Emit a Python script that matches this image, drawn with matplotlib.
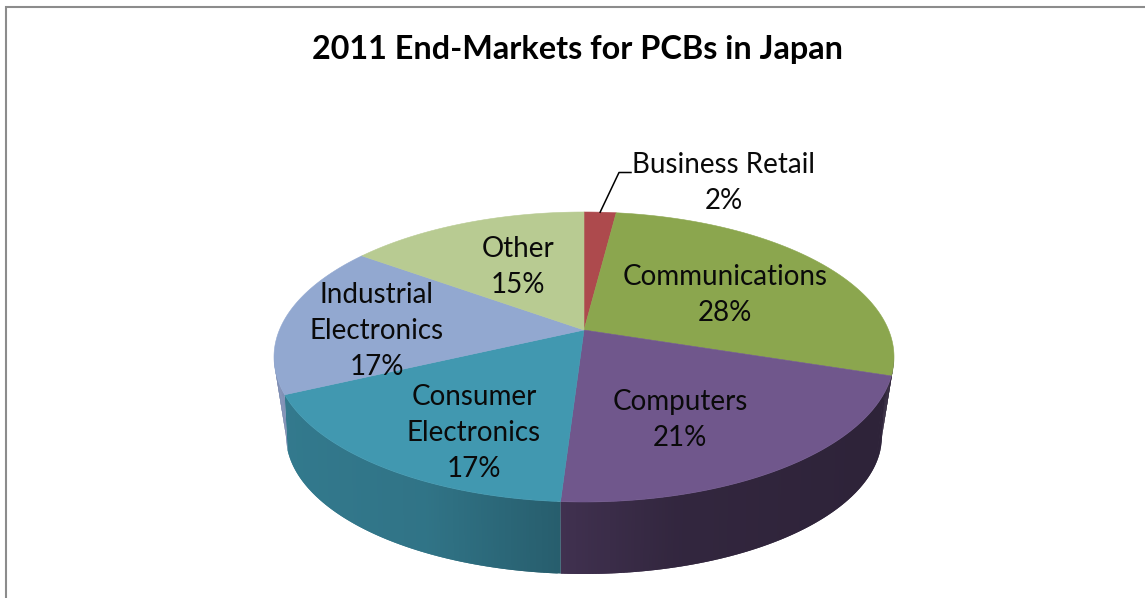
import numpy as np
import matplotlib
matplotlib.use("Agg")
import matplotlib.pyplot as plt
from matplotlib.colors import to_rgb

W, H = 1145, 598
title = "2011 End-Markets for PCBs in Japan"
categories = ["Business Retail", "Communications", "Computers",
              "Consumer\nElectronics", "Industrial\nElectronics", "Other"]
shares = [2, 28, 21, 17, 17, 15]
top_colors = ["#AD4A4D", "#8BA64E", "#70578C", "#4198B0", "#92A8D0", "#B8CB92"]
side_colors = ["#7A3436", "#2E2339", "#2E2339", "#2E6E80", "#7F8FB5", "#8A9A6A"]
label_xy = [(724, 183), (725, 295), (680, 420), (474, 433), (377, 331), (518, 267)]

CX, RX, CY, RY, A = 584, 310, 357, 145, 0.186
BOT_RX, BOT_CY, BOT_RY = 298, 436, 138

plt.rcParams['font.family'] = ['Lato', 'DejaVu Sans']
fig = plt.figure(figsize=(W / 100, H / 100), dpi=100)
ax = fig.add_axes([0, 0, 1, 1])
ax.set_xlim(0, W)
ax.set_ylim(H, 0)
ax.axis('off')


def rim(theta):
    """Project clockwise-from-top pie angles onto the tilted rim."""
    u, v = np.sin(theta), np.cos(theta)
    d = 1 + A * v
    return CX + RX * np.sqrt(1 - A**2) * u / d, CY - RY * (v + A) / d


def lower(x):
    """Rim point dropped almost straight down onto the bottom ellipse."""
    dx = np.clip((x - CX) * 0.99, -BOT_RX, BOT_RX)
    return CX + dx, BOT_CY + BOT_RY * np.sqrt(1 - (dx / BOT_RX) ** 2)


def wall_shade(i, frac):
    if i == 3:
        return np.interp(frac, [-0.95, -0.5, -0.07], [1.10, 1.05, 0.85])
    if i == 2:
        return np.interp(frac, [-0.07, 0.3, 0.9], [1.40, 1.10, 1.0])
    return 1.0


# chart frame, open at the bottom and running off the right edge
ax.plot([6, 6, W], [H, 7, 7], color="#8C8C8C", lw=1.5,
        solid_joinstyle='miter', zorder=1)

edges = np.cumsum([0] + shares) / sum(shares) * 2 * np.pi

# side wall: overlapping thin strips so no seams show
for i, (a, b) in enumerate(zip(edges[:-1], edges[1:])):
    n = max(int((b - a) * 120), 2)
    t = np.linspace(a, b, n + 1)
    x, y = rim(t)
    xb, yb = lower(x)
    base = np.array(to_rgb(side_colors[i]))
    for j in range(n):
        if y[j] < CY and y[j + 1] < CY:
            continue
        k = min(j + 2, n)
        col = np.clip(base * wall_shade(i, (x[j] - CX) / RX), 0, 1)
        ax.fill([x[j], x[k], xb[k], xb[j]],
                [y[j], y[k], yb[k], yb[j]],
                facecolor=col, edgecolor='none', lw=0, zorder=2)

# top face
apex_x, apex_y = CX, CY - RY * A
for i, (a, b) in enumerate(zip(edges[:-1], edges[1:])):
    x, y = rim(np.linspace(a, b, 200))
    ax.fill(np.r_[apex_x, x], np.r_[apex_y, y], color=top_colors[i], lw=0.4, zorder=3)

# data labels
for name, share, (lx, ly) in zip(categories, shares, label_xy):
    ax.text(lx, ly, f"{name}\n{share}%", ha='center', va='center', fontsize=20,
            color="#0A0A0A", linespacing=1.48, zorder=5)

# leader for the smallest slice
px, py = rim(np.array([(edges[0] + edges[1]) / 2]))
ax.plot([px[0], 619, 631], [py[0], 172.5, 172.5], color="black", lw=1.1, zorder=5)

ax.text(577.5, 50, title, ha='center', va='center', fontsize=23.3, fontweight='bold', color="black")

fig.savefig("out.png", dpi=100)
